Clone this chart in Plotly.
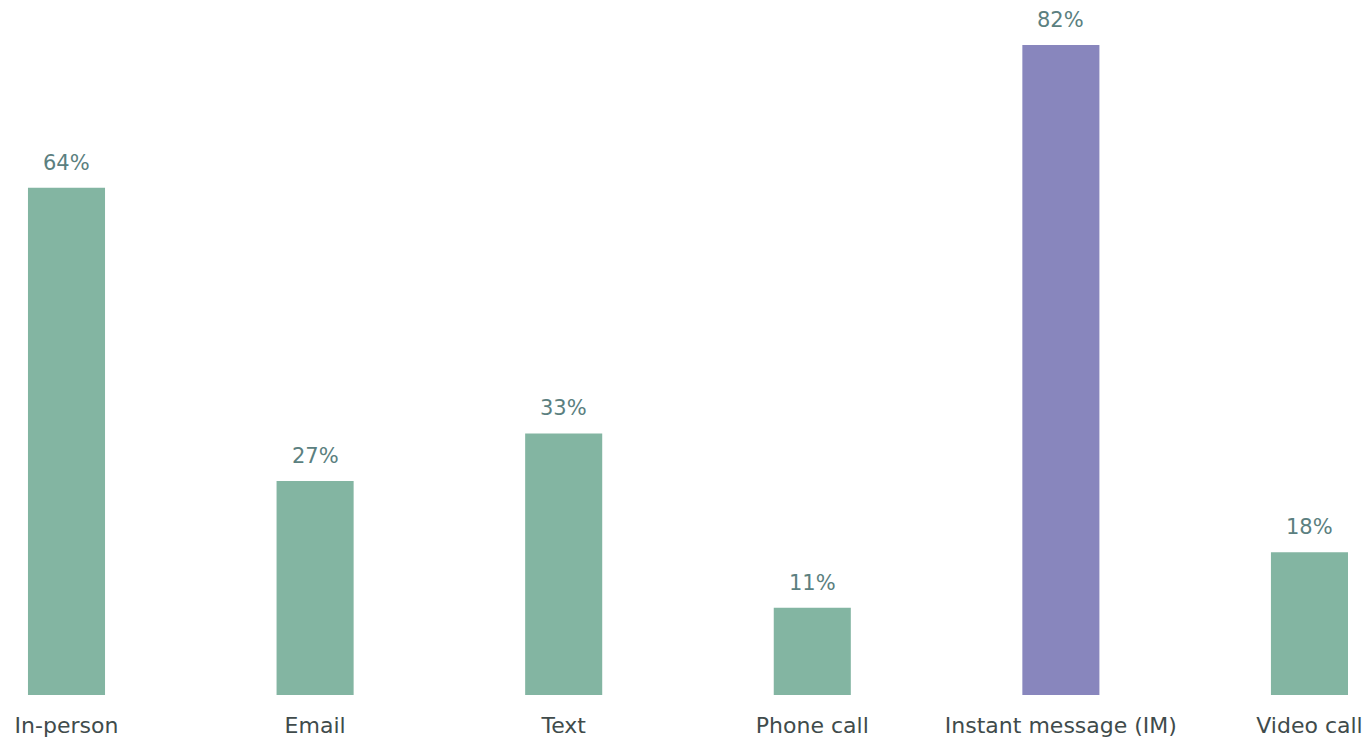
import plotly.graph_objects as go

categories = ["In-person", "Email", "Text", "Phone call", "Instant message (IM)", "Video call"]
values = [64, 27, 33, 11, 82, 18]
highlight = "Instant message (IM)"

green = "#83B5A2"
purple = "#8886BD"
colors = [purple if c == highlight else green for c in categories]
labels = [f"{v}%" for v in values]

fig = go.Figure()
fig.add_trace(go.Bar(
    x=categories, y=values, marker=dict(color=colors, line=dict(width=0)),
    width=0.31, hoverinfo="x+y",
))

for c, v, t in zip(categories, values, labels):
    fig.add_annotation(x=c, y=v, text=t, showarrow=False, yanchor="middle", yshift=25,
                       font=dict(family="DejaVu Sans", size=21, color="#5B7F80"))

fig.update_layout(
    width=1371, height=741,
    margin=dict(l=0, r=0, t=0, b=46, autoexpand=False),
    paper_bgcolor="white", plot_bgcolor="white",
    showlegend=False,
    xaxis=dict(type="category", range=[-0.2675, 5.2475], showgrid=False, zeroline=False,
               showline=False, ticks="outside", ticklen=11, tickcolor="rgba(0,0,0,0)",
               automargin=False,
               tickfont=dict(family="DejaVu Sans", size=22, color="#404B4B")),
    yaxis=dict(range=[0, 87.67], visible=False, fixedrange=True),
    font=dict(family="DejaVu Sans"),
)

fig.write_html("out.html", config={"displayModeBar": False},
               post_script="document.body.style.margin='0';document.body.style.overflow='hidden';")
